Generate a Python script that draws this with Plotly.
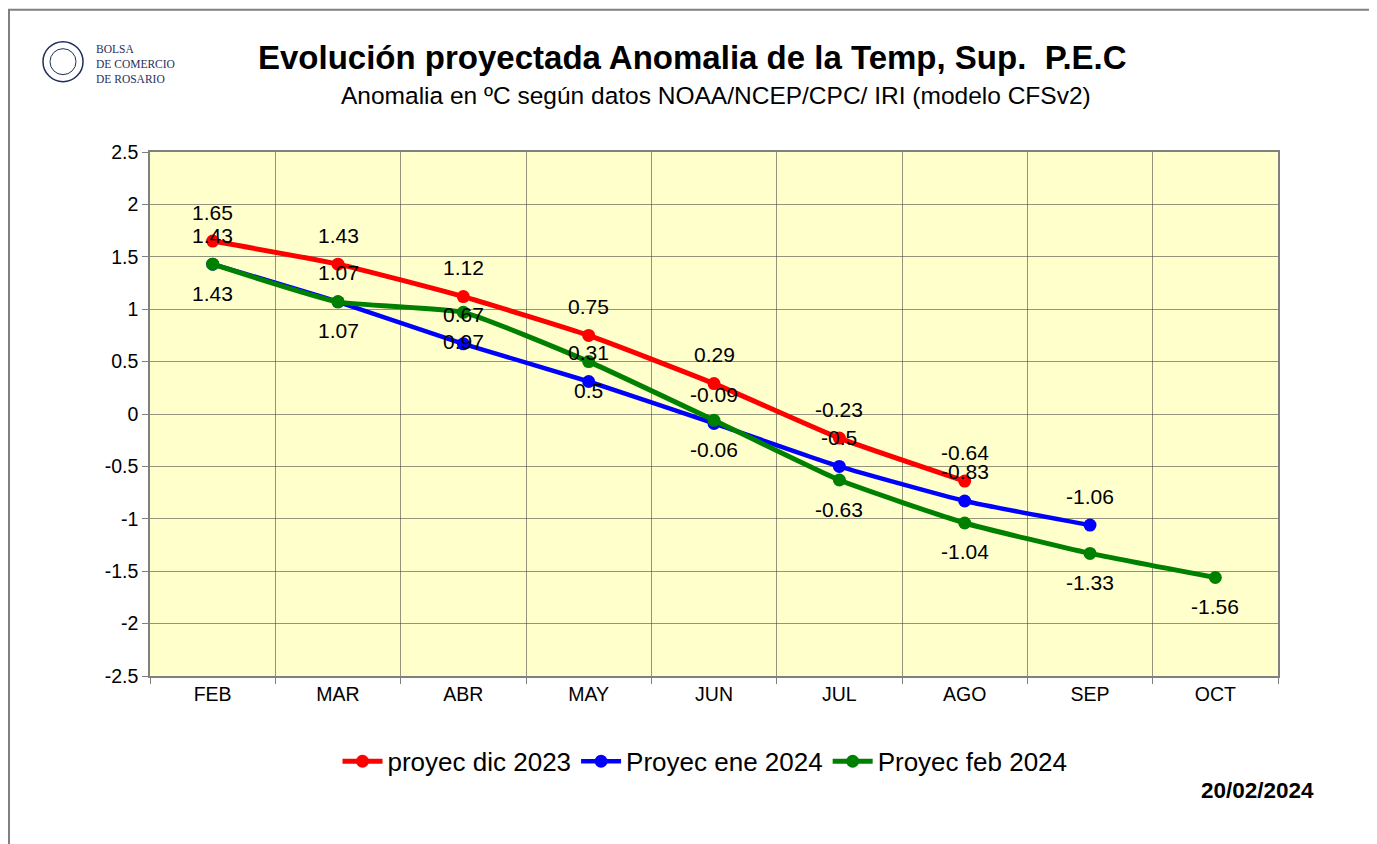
import plotly.graph_objects as go

months = ["FEB", "MAR", "ABR", "MAY", "JUN", "JUL", "AGO", "SEP", "OCT"]
dic2023 = [1.65, 1.43, 1.12, 0.75, 0.29, -0.23, -0.64]
ene2024 = [1.43, 1.07, 0.67, 0.31, -0.09, -0.5, -0.83, -1.06]
feb2024 = [1.43, 1.07, 0.97, 0.5, -0.06, -0.63, -1.04, -1.33, -1.56]
y_ticks = [2.5, 2, 1.5, 1, 0.5, 0, -0.5, -1, -1.5, -2, -2.5]
logo_lines = ["BOLSA", "DE COMERCIO", "DE ROSARIO"]

FONT = "Arial, Liberation Sans, sans-serif"
# plot area in reference (screen) pixels
PL, PR, PT, PB = 150, 1278, 151.5, 676.5
PW, PH = PR - PL, PB - PT


def px(x):
    return (x - PL) / PW


def py(y):
    return (PB - y) / PH


series = [
    ("proyec dic 2023", dic2023, "#FF0000", 5, 29),
    ("Proyec ene 2024", ene2024, "#0000FF", 4.5, 29),
    ("Proyec feb 2024", feb2024, "#008000", 5, -29),
]

fig = go.Figure()
annotations = []
for name, vals, color, lw, shift in series:
    xs = months[:len(vals)]
    fig.add_trace(go.Scatter(
        x=xs, y=vals, name=name, mode="lines+markers",
        line=dict(color=color, width=lw, shape="spline", smoothing=0.45),
        marker=dict(color=color, size=13),
    ))
for name, vals, color, lw, shift in series:
    for m, v in zip(months, vals):
        annotations.append(dict(
            x=m, y=v, xref="x", yref="y", text=f"{v:g}", showarrow=False,
            yshift=shift, font=dict(family=FONT, size=21, color="#000000"),
        ))

annotations += [
    dict(text="<b>Evolución proyectada Anomalia de la Temp, Sup.  P.E.C</b>",
         xref="paper", yref="paper", x=px(692), y=py(57), showarrow=False,
         xanchor="center", yanchor="middle",
         font=dict(family=FONT, size=33, color="#000000")),
    dict(text="Anomalia en ºC según datos NOAA/NCEP/CPC/ IRI (modelo CFSv2)",
         xref="paper", yref="paper", x=px(716), y=py(95), showarrow=False,
         xanchor="center", yanchor="middle",
         font=dict(family=FONT, size=24.5, color="#000000")),
    dict(text="<b>20/02/2024</b>", xref="paper", yref="paper", x=px(1257), y=py(791),
         showarrow=False, xanchor="center", yanchor="middle",
         font=dict(family=FONT, size=22.5, color="#000000")),
    dict(text="<br>".join(logo_lines), xref="paper", yref="paper",
         x=px(94), y=py(63), showarrow=False, xanchor="left", yanchor="middle",
         align="left",
         font=dict(family="Liberation Serif, serif", size=11.5, color="#1f2f5a")),
]

shapes = [
    dict(type="rect", xref="paper", yref="paper",
         x0=px(9), x1=px(1372), y0=py(900), y1=py(9),
         line=dict(color="#808080", width=2), fillcolor="rgba(0,0,0,0)", layer="below"),
    dict(type="circle", xref="paper", yref="paper",
         x0=px(43), x1=px(83), y0=py(81), y1=py(41),
         line=dict(color="#1f2f5a", width=1.5)),
    dict(type="circle", xref="paper", yref="paper",
         x0=px(50), x1=px(76), y0=py(74), y1=py(48),
         line=dict(color="#1f2f5a", width=1)),
]

# the page body adds an 8px offset, so margins are shifted by -8px
OFF = 8
fig.update_layout(
    width=1377, height=844,
    margin=dict(l=PL - OFF, r=1377 - (PR - OFF), t=PT - OFF, b=844 - (PB - OFF)),
    paper_bgcolor="#FFFFFF", plot_bgcolor="#FFFFCC",
    font=dict(family=FONT, color="#000000"),
    showlegend=True,
    legend=dict(orientation="h", x=px(705), y=py(762), xanchor="center", yanchor="middle",
                font=dict(family=FONT, size=26, color="#000000"),
                itemwidth=40, tracegroupgap=0, bgcolor="rgba(0,0,0,0)"),
    annotations=annotations, shapes=shapes,
)
fig.update_xaxes(
    type="category", categoryorder="array", categoryarray=months,
    range=[-0.5, 8.5], tickson="boundaries",
    showgrid=True, gridcolor="rgba(60,60,60,0.55)", gridwidth=1,
    ticks="outside", ticklen=6, tickcolor="#808080",
    showline=True, linecolor="#808080", linewidth=1.5, mirror=True,
    tickfont=dict(family=FONT, size=19.5, color="#000000"),
    zeroline=False,
)
fig.update_yaxes(
    range=[-2.5, 2.5], tickvals=y_ticks, ticktext=[f"{v:g}" for v in y_ticks],
    showgrid=True, gridcolor="rgba(60,60,60,0.55)", gridwidth=1,
    ticks="outside", ticklen=6, tickcolor="#808080",
    showline=True, linecolor="#808080", linewidth=1.5, mirror=True,
    tickfont=dict(family=FONT, size=19.5, color="#000000"),
    zeroline=False,
)

fig.write_html("out.html")
